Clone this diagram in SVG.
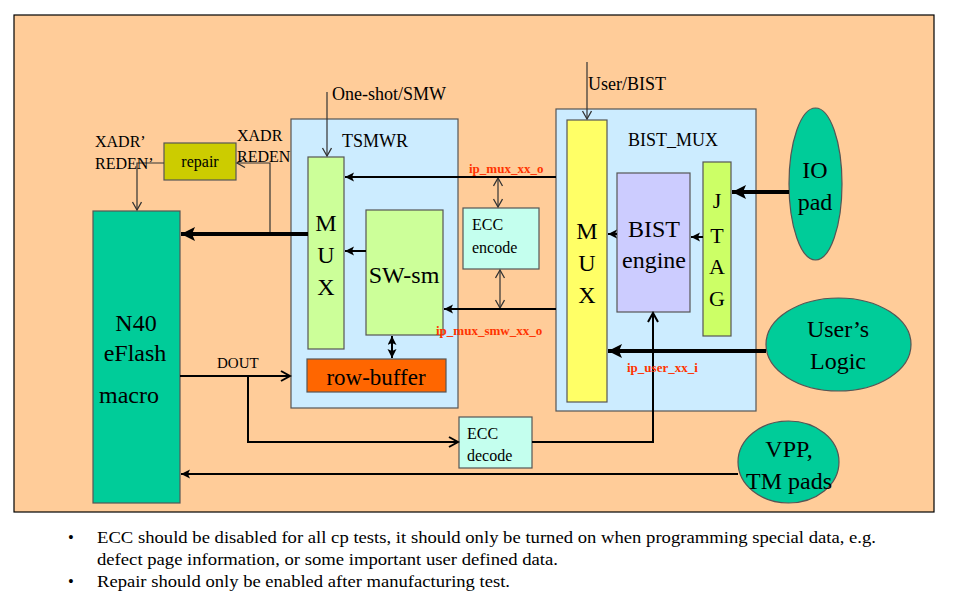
<svg xmlns="http://www.w3.org/2000/svg" width="963" height="606" viewBox="0 0 963 606">
<defs>
<marker id="open" markerUnits="userSpaceOnUse" markerWidth="12" markerHeight="12" refX="9" refY="5" orient="auto-start-reverse">
<path d="M1,0.5 L9,5 L1,9.5" fill="none" stroke="#333" stroke-width="1.3"/>
</marker>
<marker id="open2" markerUnits="userSpaceOnUse" markerWidth="12" markerHeight="14" refX="10" refY="6" orient="auto-start-reverse">
<path d="M1,1 L10,6 L1,11" fill="none" stroke="#000" stroke-width="2"/>
</marker>
<marker id="fill" markerUnits="userSpaceOnUse" markerWidth="16" markerHeight="14" refX="14" refY="7" orient="auto">
<path d="M0,0 L14,7 L0,14 L3,7 z" fill="#000"/>
</marker>
<marker id="small" markerUnits="userSpaceOnUse" markerWidth="10" markerHeight="10" refX="9" refY="4.5" orient="auto-start-reverse">
<path d="M0,0 L9,4.5 L0,9 L2,4.5 z" fill="#000"/>
</marker>
</defs>

<rect id="frame" x="14" y="15" width="920" height="497" fill="#FFCC99" stroke="#000" stroke-width="1.2"/>

<g id="tsmwr" stroke="#555" stroke-width="1.2">
<rect x="291" y="119" width="167" height="289" fill="#CCECFF"/>
<text font-family="Liberation Serif" font-size="18" x="375" y="147" text-anchor="middle" stroke="none">TSMWR</text>
</g>
<g id="bist_mux" stroke="#555" stroke-width="1.2">
<rect x="556" y="109" width="200" height="302" fill="#CCECFF"/>
<text font-family="Liberation Serif" font-size="18" x="673" y="146" text-anchor="middle" stroke="none">BIST_MUX</text>
</g>

<g id="n40">
<rect x="93" y="211" width="87" height="292" fill="#00CC99" stroke="#555" stroke-width="1.2"/>
<text font-family="Liberation Serif" font-size="24" x="136" y="331" text-anchor="middle">N40</text>
<text font-family="Liberation Serif" font-size="24" x="135" y="361" text-anchor="middle">eFlash</text>
<text font-family="Liberation Serif" font-size="24" x="99" y="403">macro</text>
</g>

<g id="repair">
<rect x="164" y="143" width="72" height="37" fill="#CCCC00" stroke="#555" stroke-width="1.2"/>
<text font-family="Liberation Serif" font-size="16" x="200" y="167" text-anchor="middle">repair</text>
</g>

<g id="mux1">
<rect x="308" y="157" width="36" height="192" fill="#CCFF99" stroke="#555" stroke-width="1.2"/>
<text font-family="Liberation Serif" font-size="24" x="326" y="231" text-anchor="middle">M</text>
<text font-family="Liberation Serif" font-size="24" x="326" y="263" text-anchor="middle">U</text>
<text font-family="Liberation Serif" font-size="24" x="326" y="295" text-anchor="middle">X</text>
</g>

<g id="swsm">
<rect x="366" y="210" width="77" height="125" fill="#CCFF99" stroke="#555" stroke-width="1.2"/>
<text font-family="Liberation Serif" font-size="24" x="404" y="283" text-anchor="middle">SW-sm</text>
</g>

<g id="rowbuffer">
<rect x="307" y="359" width="139" height="33" fill="#FF6600" stroke="#555" stroke-width="1.2"/>
<text font-family="Liberation Serif" font-size="23" x="376" y="385" text-anchor="middle">row-buffer</text>
</g>

<g id="ecc_encode">
<rect x="463" y="208" width="76" height="61" fill="#C4FFEE" stroke="#555" stroke-width="1.2"/>
<text font-family="Liberation Serif" font-size="16" x="472" y="230">ECC</text>
<text font-family="Liberation Serif" font-size="16" x="472" y="253">encode</text>
</g>

<g id="ecc_decode">
<rect x="459" y="417" width="73" height="51" fill="#C4FFEE" stroke="#555" stroke-width="1.2"/>
<text font-family="Liberation Serif" font-size="16" x="467" y="439">ECC</text>
<text font-family="Liberation Serif" font-size="16" x="467" y="461">decode</text>
</g>

<g id="mux2">
<rect x="567" y="120" width="40" height="282" fill="#FFFF66" stroke="#555" stroke-width="1.2"/>
<text font-family="Liberation Serif" font-size="24" x="587" y="239" text-anchor="middle">M</text>
<text font-family="Liberation Serif" font-size="24" x="587" y="271" text-anchor="middle">U</text>
<text font-family="Liberation Serif" font-size="24" x="587" y="303" text-anchor="middle">X</text>
</g>

<g id="bist_engine">
<rect x="617" y="173" width="73" height="139" fill="#CCCCFF" stroke="#555" stroke-width="1.2"/>
<text font-family="Liberation Serif" font-size="24" x="654" y="237" text-anchor="middle">BIST</text>
<text font-family="Liberation Serif" font-size="24" x="654" y="268" text-anchor="middle">engine</text>
</g>

<g id="jtag">
<rect x="703" y="162" width="28" height="174" fill="#CCFF66" stroke="#555" stroke-width="1.2"/>
<text font-family="Liberation Serif" font-size="22" x="717" y="208" text-anchor="middle">J</text>
<text font-family="Liberation Serif" font-size="22" x="717" y="243" text-anchor="middle">T</text>
<text font-family="Liberation Serif" font-size="22" x="717" y="274" text-anchor="middle">A</text>
<text font-family="Liberation Serif" font-size="22" x="717" y="306" text-anchor="middle">G</text>
</g>

<g id="io_pad">
<ellipse cx="815.5" cy="184" rx="26.5" ry="76" fill="#00CC99" stroke="#555" stroke-width="1.2"/>
<text font-family="Liberation Serif" font-size="24" x="815" y="178" text-anchor="middle">IO</text>
<text font-family="Liberation Serif" font-size="24" x="815" y="210" text-anchor="middle">pad</text>
</g>

<g id="users_logic">
<ellipse cx="838.5" cy="344.5" rx="72.5" ry="46.5" fill="#00CC99" stroke="#555" stroke-width="1.2"/>
<text font-family="Liberation Serif" font-size="24" x="838" y="337" text-anchor="middle">User’s</text>
<text font-family="Liberation Serif" font-size="24" x="838" y="369" text-anchor="middle">Logic</text>
</g>

<g id="vpp_tm">
<ellipse cx="788.5" cy="462" rx="50.5" ry="41" fill="#00CC99" stroke="#555" stroke-width="1.2"/>
<text font-family="Liberation Serif" font-size="24" x="789" y="457" text-anchor="middle">VPP,</text>
<text font-family="Liberation Serif" font-size="24" x="789" y="489" text-anchor="middle">TM pads</text>
</g>

<g id="connectors" fill="none">
<g stroke="#333" stroke-width="1.2">
<polyline points="164,163 137,163 137,210" marker-end="url(#open)"/>
<polyline points="270,234 270,163 237,163" marker-end="url(#open)"/>
<line x1="327" y1="92" x2="327" y2="156" marker-end="url(#open)"/>
<line x1="587" y1="62" x2="587" y2="119" marker-end="url(#open)"/>
<line x1="498" y1="178" x2="498" y2="207" marker-start="url(#open)" marker-end="url(#open)"/>
<line x1="500" y1="270" x2="500" y2="308" marker-start="url(#open)" marker-end="url(#open)"/>
</g>
<g stroke="#000" stroke-width="4">
<line x1="308" y1="234" x2="181" y2="234" marker-end="url(#fill)"/>
<line x1="789" y1="192" x2="732" y2="192" marker-end="url(#fill)"/>
<line x1="766" y1="351" x2="608" y2="351" marker-end="url(#fill)"/>
</g>
<g stroke="#000" stroke-width="2">
<line x1="366" y1="251" x2="345" y2="251" marker-end="url(#small)"/>
<line x1="392" y1="336" x2="392" y2="358" marker-start="url(#small)" marker-end="url(#small)"/>
<line x1="556" y1="177" x2="345" y2="177" marker-end="url(#small)"/>
<line x1="556" y1="309" x2="444" y2="309" marker-end="url(#small)"/>
<line x1="617" y1="234" x2="608" y2="234" marker-end="url(#small)"/>
<line x1="703" y1="237" x2="691" y2="237" marker-end="url(#small)"/>
<line x1="738" y1="474" x2="181" y2="474" marker-end="url(#small)"/>
<line x1="180" y1="376" x2="290" y2="376" marker-end="url(#open2)"/>
<polyline points="248,376 248,442 458,442" marker-end="url(#open2)"/>
<polyline points="532,442 653,442 653,313" marker-end="url(#open2)"/>
</g>
</g>

<g id="labels">
<text font-family="Liberation Serif" font-size="16" x="95" y="147">XADR’</text>
<text font-family="Liberation Serif" font-size="16" x="95" y="169">REDEN’</text>
<text font-family="Liberation Serif" font-size="16" x="237" y="141">XADR</text>
<text font-family="Liberation Serif" font-size="16" x="237" y="162">REDEN</text>
<text font-family="Liberation Serif" font-size="18" x="332" y="100">One-shot/SMW</text>
<text font-family="Liberation Serif" font-size="18" x="588" y="90">User/BIST</text>
<text font-family="Liberation Serif" font-size="15" x="217" y="368">DOUT</text>
<text font-family="Liberation Serif" font-size="13" font-weight="bold" fill="#FF3300" x="469" y="173">ip_mux_xx_o</text>
<text font-family="Liberation Serif" font-size="13" font-weight="bold" fill="#FF3300" x="436" y="335">ip_mux_smw_xx_o</text>
<text font-family="Liberation Serif" font-size="13" font-weight="bold" fill="#FF3300" x="627" y="372">ip_user_xx_i</text>
</g>

<g id="notes">
<text font-family="Liberation Serif" font-size="16.5" x="68" y="543">•</text>
<text font-family="Liberation Serif" font-size="16.5" x="97" y="543" textLength="779" lengthAdjust="spacingAndGlyphs">ECC should be disabled for all cp tests, it should only be turned on when programming special data, e.g.</text>
<text font-family="Liberation Serif" font-size="16.5" x="97" y="565" textLength="461" lengthAdjust="spacingAndGlyphs">defect page information,  or some important user defined data.</text>
<text font-family="Liberation Serif" font-size="16.5" x="68" y="587">•</text>
<text font-family="Liberation Serif" font-size="16.5" x="97" y="587" textLength="413" lengthAdjust="spacingAndGlyphs">Repair should only be enabled after manufacturing  test.</text>
</g>
</svg>
